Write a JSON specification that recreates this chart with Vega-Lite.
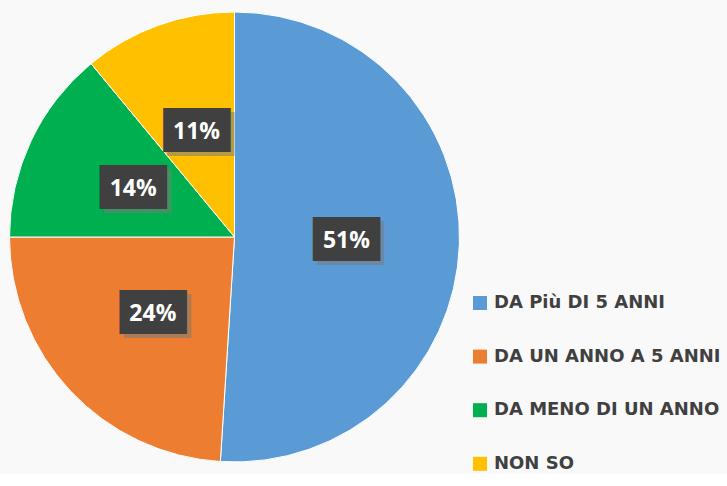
{
  "$schema": "https://vega.github.io/schema/vega-lite/v6.json",
  "width": 469,
  "height": 474,
  "padding": {"left": 0, "top": 0, "right": 9, "bottom": 0},
  "background": "#f9f9f9",
  "config": {"view": {"stroke": null}},
  "data": {
    "values": [
      {"cat": "DA Più DI 5 ANNI", "pct": 51, "ord": 1, "label": "51%"},
      {"cat": "DA UN ANNO A 5 ANNI", "pct": 24, "ord": 2, "label": "24%"},
      {"cat": "DA MENO DI UN ANNO", "pct": 14, "ord": 3, "label": "14%"},
      {"cat": "NON SO", "pct": 11, "ord": 4, "label": "11%"}
    ]
  },
  "encoding": {
    "theta": {"field": "pct", "type": "quantitative", "stack": true},
    "order": {"field": "ord", "type": "ordinal"}
  },
  "layer": [
    {
      "mark": {"type": "arc", "outerRadius": 225, "stroke": "#ffffff", "strokeWidth": 1},
      "encoding": {
        "color": {
          "field": "cat",
          "type": "nominal",
          "sort": ["DA Più DI 5 ANNI", "DA UN ANNO A 5 ANNI", "DA MENO DI UN ANNO", "NON SO"],
          "scale": {
            "domain": ["DA Più DI 5 ANNI", "DA UN ANNO A 5 ANNI", "DA MENO DI UN ANNO", "NON SO"],
            "range": ["#5B9BD5", "#ED7D31", "#00B050", "#FFC000"]
          },
          "legend": {
            "title": null,
            "orient": "none",
            "legendX": 471,
            "legendY": 294,
            "symbolType": "square",
            "symbolSize": 196,
            "symbolStrokeWidth": 0,
            "labelFont": "DejaVu Sans",
            "labelFontWeight": "bold",
            "labelFontSize": 18,
            "labelColor": "#404040",
            "labelOffset": 5,
            "labelLimit": 300,
            "rowPadding": 35.6,
            "padding": 0,
            "offset": 0
          }
        }
      }
    },
    {
      "mark": {"type": "text", "radius": 112, "font": "DejaVu Sans Mono", "fontSize": 37, "color": "#7a7a7a", "opacity": 0.55, "dx": 4, "dy": 4, "baseline": "middle"},
      "encoding": {"text": {"value": "███"}}
    },
    {
      "mark": {"type": "text", "radius": 112, "font": "DejaVu Sans Mono", "fontSize": 37, "color": "#404040", "baseline": "middle"},
      "encoding": {"text": {"value": "███"}}
    },
    {
      "mark": {"type": "text", "radius": 112, "font": "Open Sans", "fontWeight": "bold", "fontSize": 23, "color": "#ffffff", "baseline": "middle"},
      "encoding": {"text": {"field": "label", "type": "nominal"}}
    }
  ]
}
